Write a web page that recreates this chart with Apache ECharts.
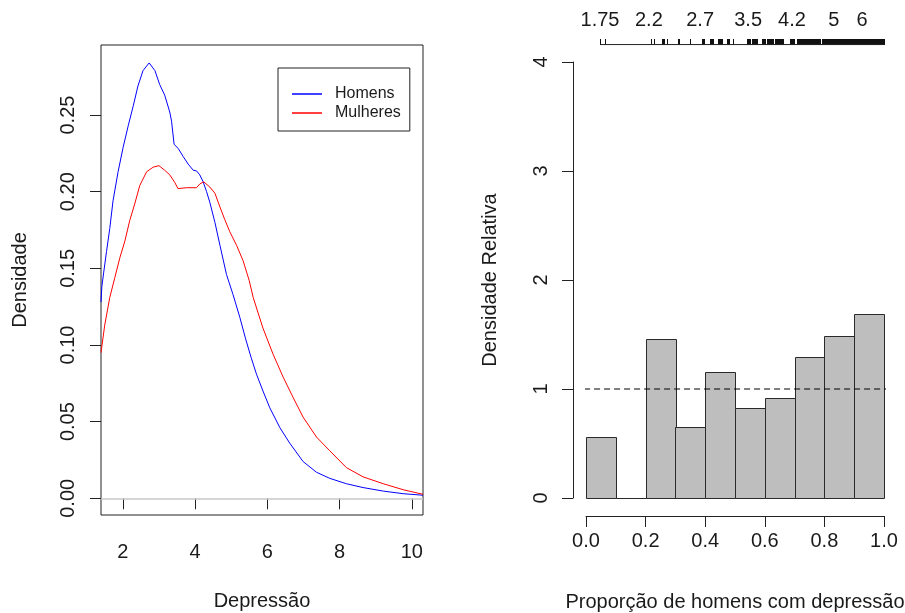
<!DOCTYPE html>
<html>
<head>
<meta charset="utf-8">
<script src="https://cdn.jsdelivr.net/npm/echarts@6/dist/echarts.min.js"></script>
<style>
  html, body { margin: 0; padding: 0; background: #fff; }
  #chart { width: 905px; height: 613px; }
</style>
</head>
<body>
<div id="chart"></div>
<script>
// densidade (painel esquerdo)
const homensX = [1.397, 1.42, 1.47, 1.55, 1.64, 1.73, 1.87, 2.01, 2.15, 2.29, 2.42, 2.56, 2.73, 2.89, 3.02, 3.16, 3.30, 3.35, 3.42, 3.54, 3.67, 3.81, 3.95, 4.04, 4.13, 4.22, 4.32, 4.41, 4.55, 4.69, 4.87, 5.05, 5.24, 5.40, 5.55, 5.70, 5.88, 6.07, 6.35, 6.62, 6.99, 7.36, 7.73, 8.19, 8.65, 9.21, 9.76, 10.31]
const homensY = [0.128, 0.138, 0.147, 0.161, 0.176, 0.194, 0.213, 0.229, 0.243, 0.256, 0.269, 0.279, 0.284, 0.279, 0.270, 0.263, 0.252, 0.246, 0.231, 0.228, 0.223, 0.218, 0.214, 0.2136, 0.211, 0.2067, 0.200, 0.193, 0.180, 0.165, 0.146, 0.133, 0.118, 0.104, 0.092, 0.081, 0.070, 0.059, 0.046, 0.036, 0.024, 0.017, 0.013, 0.0095, 0.007, 0.0047, 0.003, 0.002]
const mulheresX = [1.397, 1.50, 1.64, 1.78, 1.92, 2.06, 2.19, 2.33, 2.47, 2.66, 2.84, 3.00, 3.16, 3.30, 3.44, 3.53, 3.76, 4.04, 4.13, 4.24, 4.41, 4.55, 4.69, 4.82, 4.96, 5.15, 5.33, 5.50, 5.61, 5.88, 6.16, 6.44, 6.71, 6.99, 7.36, 7.73, 8.19, 8.65, 9.21, 9.76, 10.31]
const mulheresY = [0.095, 0.113, 0.131, 0.144, 0.157, 0.168, 0.181, 0.192, 0.204, 0.213, 0.216, 0.217, 0.214, 0.211, 0.206, 0.202, 0.2026, 0.2026, 0.205, 0.2065, 0.203, 0.199, 0.190, 0.182, 0.174, 0.165, 0.155, 0.142, 0.131, 0.111, 0.094, 0.079, 0.066, 0.053, 0.040, 0.031, 0.020, 0.014, 0.0095, 0.0056, 0.0026]
const xTicksL = [2, 4, 6, 8, 10]
const yTicksL = [0, 0.05, 0.10, 0.15, 0.20, 0.25]

// densidade relativa (painel direito)
const binEdges = [0, 0.1, 0.2, 0.3, 0.4, 0.5, 0.6, 0.7, 0.8, 0.9, 1.0]
const relDens = [0.557, 0, 1.456, 0.648, 1.159, 0.823, 0.914, 1.29, 1.49, 1.685]
const topPos = [0.047, 0.211, 0.383, 0.544, 0.691, 0.832, 0.926]
const topLabels = ['1.75', '2.2', '2.7', '3.5', '4.2', '5', '6']
// rug: [de, até] na escala de proporção
const rugMarks = [
  [0.048, 0.048], [0.064, 0.064], [0.218, 0.218], [0.228, 0.228], [0.255, 0.262], [0.272, 0.272],
  [0.308, 0.313], [0.349, 0.349], [0.388, 0.396], [0.416, 0.425], [0.444, 0.455], [0.472, 0.481],
  [0.494, 0.494], [0.540, 0.550], [0.557, 0.574], [0.589, 0.601], [0.606, 0.629], [0.634, 0.657],
  [0.661, 0.661], [0.685, 0.698], [0.708, 0.785], [0.792, 0.859], [0.862, 1.0]
]

const FONT = 'Liberation Sans, Arial, sans-serif'
const INK = '#1a1a1a'

const chart = echarts.init(document.getElementById('chart'), null, { renderer: 'canvas' })

const zip = (xs, ys) => xs.map((x, i) => [x, ys[i]])
const bins = relDens.map((h, i) => [binEdges[i], binEdges[i + 1], h])

const axisText = { fontFamily: FONT, fontSize: 20, color: INK }

chart.setOption({
  animation: false,
  textStyle: { fontFamily: FONT },
  grid: [
    { left: 101, top: 45, width: 322, height: 470, show: true, borderColor: '#222', borderWidth: 1, outerBoundsMode: 'none' },
    { left: 586, top: 62, width: 298, height: 436, outerBoundsMode: 'none' }
  ],
  legend: {
    data: ['Homens', 'Mulheres'],
    orient: 'vertical',
    left: 278,
    top: 68,
    padding: [18, 9, 10, 14],
    icon: 'rect',
    itemWidth: 30,
    itemHeight: 1.5,
    itemGap: 3,
    borderColor: '#222',
    borderWidth: 1,
    textStyle: { fontFamily: FONT, fontSize: 16, color: INK, padding: [0, 0, 0, 8] }
  },
  xAxis: [
    {
      gridIndex: 0, type: 'value', min: 1.397, max: 10.31,
      axisLine: { show: false },
      splitLine: { show: false },
      axisTick: { customValues: xTicksL, length: 11, lineStyle: { color: '#222' } },
      axisLabel: Object.assign({ customValues: xTicksL, margin: 27 }, axisText),
      name: 'Depressão', nameLocation: 'middle', nameGap: 76,
      nameTextStyle: axisText
    },
    {
      gridIndex: 1, type: 'value', min: 0, max: 1, interval: 0.2, offset: 18, position: 'bottom',
      axisLine: { onZero: false, lineStyle: { color: '#222' } },
      splitLine: { show: false },
      axisTick: { length: 11, lineStyle: { color: '#222' } },
      axisLabel: Object.assign({ margin: 15, formatter: v => v.toFixed(1) }, axisText),
      name: 'Proporção de homens com depressão', nameLocation: 'middle', nameGap: 76,
      nameTextStyle: axisText
    },
    {
      gridIndex: 1, type: 'value', min: 0, max: 1, position: 'top',
      axisLine: { show: false, onZero: false },
      axisTick: { show: false },
      splitLine: { show: false },
      axisLabel: Object.assign({
        customValues: topPos, margin: 32,
        formatter: v => {
          let best = 0
          topPos.forEach((p, i) => { if (Math.abs(p - v) < Math.abs(topPos[best] - v)) best = i })
          return topLabels[best]
        }
      }, axisText)
    }
  ],
  yAxis: [
    {
      gridIndex: 0, type: 'value', min: -0.0109, max: 0.2957,
      axisLine: { show: false },
      splitLine: { show: false },
      axisTick: { customValues: yTicksL, length: 11, lineStyle: { color: '#222' } },
      axisLabel: Object.assign({ customValues: yTicksL, rotate: 90, margin: 23, formatter: v => v.toFixed(2) }, axisText),
      name: 'Densidade', nameLocation: 'middle', nameRotate: 90, nameGap: 71,
      nameTextStyle: axisText
    },
    {
      gridIndex: 1, type: 'value', min: 0, max: 4, interval: 1, offset: 13,
      axisLine: { show: true, onZero: false, lineStyle: { color: '#222' } },
      splitLine: { show: false },
      axisTick: { show: true, length: 11, lineStyle: { color: '#222' } },
      axisLabel: Object.assign({ rotate: 90, margin: 22 }, axisText),
      name: 'Densidade Relativa', nameLocation: 'middle', nameRotate: 90, nameGap: 73,
      nameTextStyle: axisText
    }
  ],
  series: [
    {
      name: 'Homens', type: 'line', xAxisIndex: 0, yAxisIndex: 0,
      data: zip(homensX, homensY),
      symbol: 'none', showSymbol: false,
      color: '#0000ff',
      lineStyle: { color: '#0000ff', width: 1 },
      markLine: {
        silent: true, symbol: 'none', label: { show: false },
        lineStyle: { color: '#c8c8c8', type: 'solid', width: 1.5 },
        data: [{ yAxis: 0 }]
      },
      z: 3
    },
    {
      name: 'Mulheres', type: 'line', xAxisIndex: 0, yAxisIndex: 0,
      data: zip(mulheresX, mulheresY),
      symbol: 'none', showSymbol: false,
      color: '#ff0000',
      lineStyle: { color: '#ff0000', width: 1 },
      z: 3
    },
    {
      type: 'custom', xAxisIndex: 1, yAxisIndex: 1,
      data: bins,
      encode: { x: [0, 1], y: 2 },
      renderItem: (params, api) => {
        const p0 = api.coord([api.value(0), 0])
        const p1 = api.coord([api.value(1), api.value(2)])
        return {
          type: 'rect',
          shape: { x: Math.round(p0[0]) + 0.5, y: Math.round(p1[1]) + 0.5, width: Math.round(p1[0] - p0[0]), height: Math.round(p0[1] - p1[1]) },
          style: { fill: '#bebebe', stroke: '#2a2a2a', lineWidth: 1 }
        }
      }
    },
    {
      type: 'line', xAxisIndex: 1, yAxisIndex: 1,
      data: [[-0.04, 1], [1.04, 1]],
      clip: false, symbol: 'none', silent: true,
      lineStyle: { color: '#000', width: 1.2, type: [6, 4] },
      z: 4
    },
    {
      // linha do rug
      type: 'line', xAxisIndex: 1, yAxisIndex: 1,
      data: [[rugMarks[0][0], 4.16], [rugMarks[rugMarks.length - 1][1], 4.16]],
      clip: false, symbol: 'none', silent: true,
      lineStyle: { color: '#222', width: 1 }
    },
    {
      type: 'custom', xAxisIndex: 1, yAxisIndex: 1,
      data: rugMarks.map(r => [r[0], r[1], 4.16]),
      encode: { x: [0, 1], y: 2 },
      clip: false,
      renderItem: (params, api) => {
        const a = api.coord([api.value(0), api.value(2)])
        const b = api.coord([api.value(1), api.value(2)])
        const x0 = Math.round(a[0])
        const w = Math.max(1, Math.round(b[0]) - x0 + 1)
        return {
          type: 'rect',
          shape: { x: x0, y: Math.round(a[1]) - 6, width: w, height: 6 },
          style: { fill: '#111' }
        }
      }
    }
  ]
})
</script>
</body>
</html>
